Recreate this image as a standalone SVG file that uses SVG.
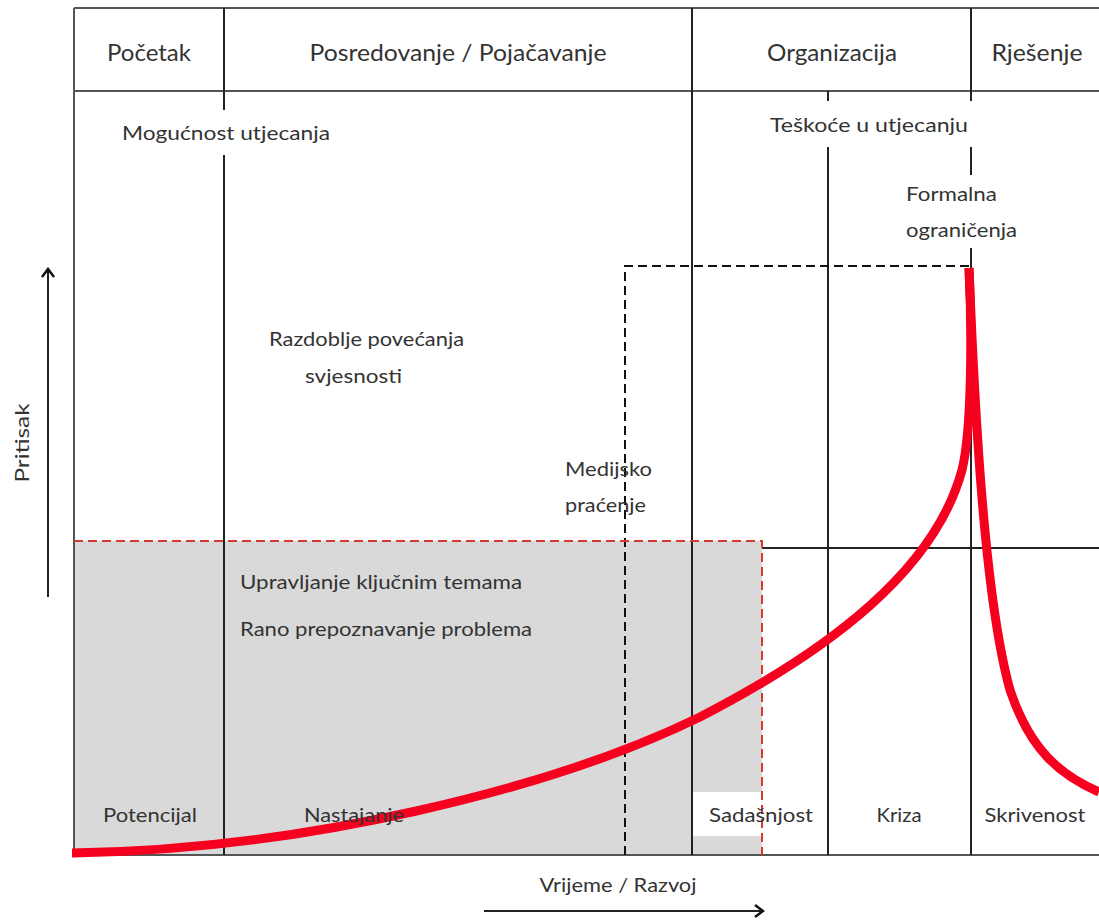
<svg xmlns="http://www.w3.org/2000/svg" width="1099" height="920" viewBox="0 0 1099 920">
<defs>
<style>
.t{font-family:Lato,"Liberation Sans",sans-serif;fill:#333;font-size:20px}
.h{font-size:23px}
.ln{stroke:#222;stroke-width:2;fill:none}
.fr{stroke:#555;stroke-width:2;fill:none}
.dk{stroke:#111;stroke-width:2;fill:none;stroke-dasharray:9 5}
.rd{stroke:#d63a2f;stroke-width:2;fill:none;stroke-dasharray:9 5}
.cv{stroke:#f5001e;stroke-width:9;fill:none}
</style>
<marker id="ah" markerWidth="12" markerHeight="14" refX="10" refY="7" orient="auto" markerUnits="userSpaceOnUse">
<path d="M2,1 L10,7 L2,13" fill="none" stroke="#111" stroke-width="2.5"/>
</marker>
</defs>
<rect width="1099" height="920" fill="#fff"/>
<g id="zone-shaded">
<rect x="74" y="541" width="688" height="314" fill="#d9d9d9"/>
<rect x="693" y="792" width="69" height="44" fill="#fff"/>
</g>
<g id="connectors">
<path class="fr" d="M74,8 H1099 M74,91 H1099 M74,855 H1099 M74,8 V855"/>
<path class="ln" d="M224,8 V91 M692,8 V91 M971,8 V91"/>
<path class="ln" d="M224,91 V110 M224,155 V855"/>
<path class="ln" d="M692,91 V855"/>
<path class="ln" d="M828,91 V101 M828,147 V855"/>
<path class="ln" d="M971,91 V101 M971,147 V175 M971,248 V268 M971,340 V855"/>
<path class="ln" d="M762,548 H1099"/>
<path class="dk" d="M625,855 V266 H969"/>
<path class="rd" d="M74,541 H762 V855"/>
<path class="ln" d="M48,597 V269" marker-end="url(#ah)"/>
<path class="ln" d="M484,911 H763" marker-end="url(#ah)"/>
<path class="cv" d="M72,853 C300,850 550,790 700,717 C830,650 935,570 962,470 C972,430 972,330 969,268"/>
<path class="cv" d="M969,268 C975,420 985,600 1010,690 C1030,750 1060,775 1099,792"/>
</g>
<g id="header-pocetak"><text class="t h" x="149" y="61" text-anchor="middle" textLength="84" lengthAdjust="spacingAndGlyphs">Početak</text></g>
<g id="header-posredovanje"><text class="t h" x="458" y="61" text-anchor="middle" textLength="297" lengthAdjust="spacingAndGlyphs">Posredovanje / Pojačavanje</text></g>
<g id="header-organizacija"><text class="t h" x="832" y="61" text-anchor="middle" textLength="130" lengthAdjust="spacingAndGlyphs">Organizacija</text></g>
<g id="header-rjesenje"><text class="t h" x="1037" y="61" text-anchor="middle" textLength="91" lengthAdjust="spacingAndGlyphs">Rješenje</text></g>
<g id="label-mogucnost"><text class="t" x="122" y="140" textLength="208" lengthAdjust="spacingAndGlyphs">Mogućnost  utjecanja</text></g>
<g id="label-teskoce"><text class="t" x="770" y="132" textLength="198" lengthAdjust="spacingAndGlyphs">Teškoće  u  utjecanju</text></g>
<g id="label-formalna"><text class="t" x="906" y="201" textLength="91" lengthAdjust="spacingAndGlyphs">Formalna</text><text class="t" x="906" y="237" textLength="111" lengthAdjust="spacingAndGlyphs">ograničenja</text></g>
<g id="label-razdoblje"><text class="t" x="269" y="346" textLength="195" lengthAdjust="spacingAndGlyphs">Razdoblje povećanja</text><text class="t" x="305" y="383" textLength="97" lengthAdjust="spacingAndGlyphs">svjesnosti</text></g>
<g id="label-medijsko"><text class="t" x="565" y="476" textLength="87" lengthAdjust="spacingAndGlyphs">Medijsko</text><text class="t" x="565" y="512" textLength="81" lengthAdjust="spacingAndGlyphs">praćenje</text></g>
<g id="label-upravljanje"><text class="t" x="240" y="589" textLength="282" lengthAdjust="spacingAndGlyphs">Upravljanje ključnim temama</text><text class="t" x="240" y="636" textLength="292" lengthAdjust="spacingAndGlyphs">Rano prepoznavanje problema</text></g>
<g id="stage-potencijal"><text class="t" x="150" y="822" text-anchor="middle" textLength="94" lengthAdjust="spacingAndGlyphs">Potencijal</text></g>
<g id="stage-nastajanje"><text class="t" x="354" y="822" text-anchor="middle" textLength="100" lengthAdjust="spacingAndGlyphs">Nastajanje</text></g>
<g id="stage-sadasnjost"><text class="t" x="761" y="822" text-anchor="middle" textLength="104" lengthAdjust="spacingAndGlyphs">Sadašnjost</text></g>
<g id="stage-kriza"><text class="t" x="899" y="822" text-anchor="middle" textLength="45" lengthAdjust="spacingAndGlyphs">Kriza</text></g>
<g id="stage-skrivenost"><text class="t" x="1035" y="822" text-anchor="middle" textLength="101" lengthAdjust="spacingAndGlyphs">Skrivenost</text></g>
<g id="axis-x-label"><text class="t" x="618" y="892" text-anchor="middle" textLength="157" lengthAdjust="spacingAndGlyphs">Vrijeme / Razvoj</text></g>
<g id="axis-y-label"><text class="t" x="0" y="0" text-anchor="middle" transform="translate(29,443) rotate(-90)" textLength="79" lengthAdjust="spacingAndGlyphs">Pritisak</text></g>
</svg>
